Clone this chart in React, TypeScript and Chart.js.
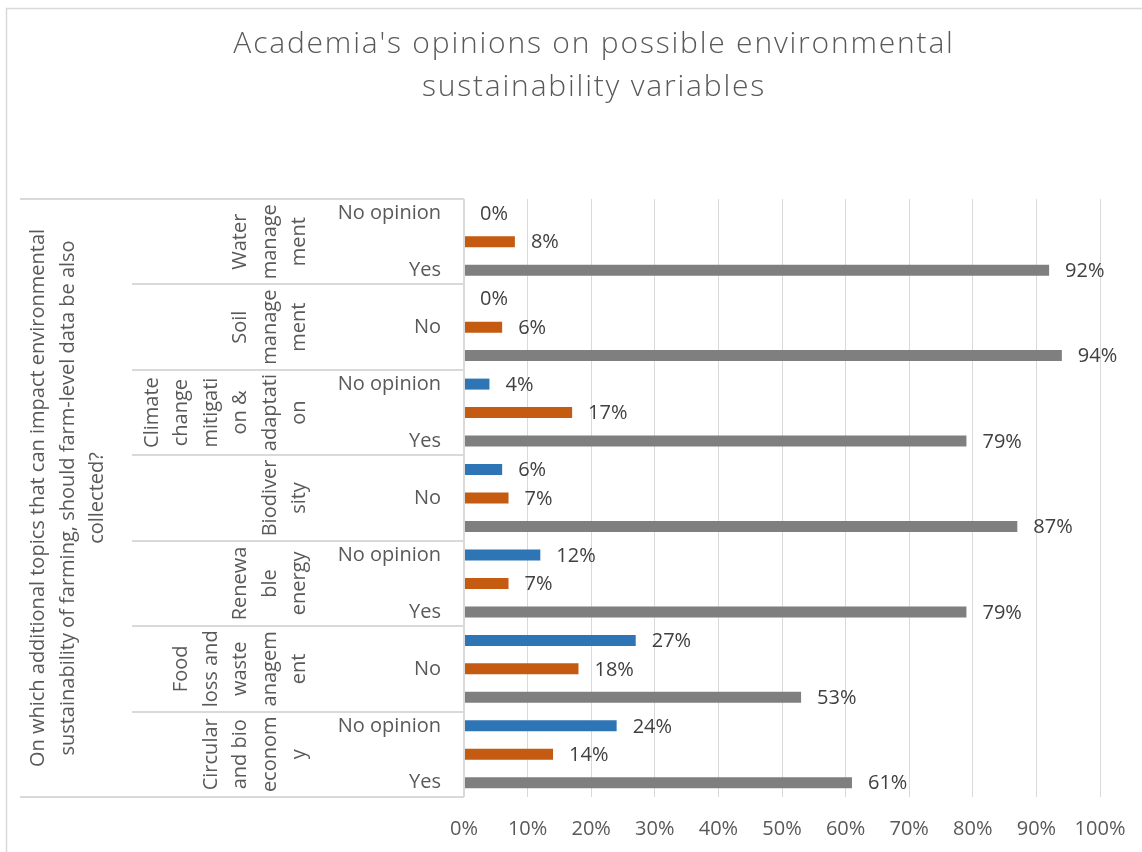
import React, { useEffect, useRef } from "react";
import { Chart, registerables } from "chart.js";

Chart.register(...registerables);

// ---- data ----
const titleLines = ["Academia's opinions on possible environmental", "sustainability variables"];
const axisTitleLines = [
  "On which additional topics that can impact environmental",
  "sustainability of farming, should farm-level data be also",
  "collected?",
];
const topics: string[][] = [
  ["Water", "manage", "ment"],
  ["Soil", "manage", "ment"],
  ["Climate", "change", "mitigati", "on &", "adaptati", "on"],
  ["Biodiver", "sity"],
  ["Renewa", "ble", "energy"],
  ["Food", "loss and", "waste", "anagem", "ent"],
  ["Circular", "and bio", "econom", "y"],
];
const answers = ["No opinion", "No", "Yes"];
const noOpinion = [0, 0, 4, 6, 12, 27, 24];
const no = [8, 6, 17, 7, 7, 18, 14];
const yes = [92, 94, 79, 87, 79, 53, 61];
const xTickValues = [0, 10, 20, 30, 40, 50, 60, 70, 80, 90, 100];

const FONT = "'Open Sans', sans-serif";
const TEXT = "#595959";
const LINE = "#d9d9d9";

const decorPlugin = {
  id: "decor",
  beforeDraw(chart: any) {
    const ctx = chart.ctx;
    ctx.save();
    ctx.strokeStyle = LINE;
    ctx.lineWidth = 1.5;
    ctx.strokeRect(6.5, 8.5, chart.width + 40, chart.height + 40);
    ctx.restore();
  },
  afterDraw(chart: any) {
    const { ctx, chartArea } = chart;
    const yScale = chart.scales.y;
    const n = topics.length;
    const step = (chartArea.bottom - chartArea.top) / n;
    ctx.save();

    // chart title
    ctx.fillStyle = TEXT;
    ctx.font = `300 30px ${FONT}`;
    ctx.textAlign = "center";
    ctx.textBaseline = "alphabetic";
    (ctx as any).letterSpacing = "1.8px";
    titleLines.forEach((line, j) => {
      ctx.fillText(line, 594, 53 + j * 43);
    });
    (ctx as any).letterSpacing = "0px";

    // data labels + answer labels
    ctx.font = `20px ${FONT}`;
    ctx.textBaseline = "middle";
    chart.data.datasets.forEach((ds: any, d: number) => {
      const meta = chart.getDatasetMeta(d);
      meta.data.forEach((bar: any, i: number) => {
        ctx.fillStyle = "#404040";
        ctx.textAlign = "left";
        ctx.fillText(`${ds.data[i]}%`, bar.x + 16, bar.y + 1);
        const k = i * answers.length + d;
        if (k % 2 === 0) {
          ctx.fillStyle = TEXT;
          ctx.textAlign = "right";
          ctx.fillText(answers[d], chartArea.left - 23, bar.y);
        }
      });
    });

    // category box lines
    ctx.strokeStyle = LINE;
    ctx.lineWidth = 2;
    for (let i = 0; i <= n; i++) {
      const y = Math.round(i < n ? yScale.getPixelForValue(i) - step / 2 : chartArea.bottom);
      const x0 = i === 0 || i === n ? 20 : 132;
      ctx.beginPath();
      ctx.moveTo(x0, y);
      ctx.lineTo(chartArea.left, y);
      ctx.stroke();
    }

    // rotated topic labels
    ctx.fillStyle = TEXT;
    ctx.textAlign = "center";
    ctx.textBaseline = "alphabetic";
    const lastBase = chartArea.left - 159;
    topics.forEach((lines, i) => {
      const cy = yScale.getPixelForValue(i);
      lines.forEach((line, j) => {
        const bx = lastBase - (lines.length - 1 - j) * 29.5;
        ctx.save();
        ctx.translate(bx, cy);
        ctx.rotate(-Math.PI / 2);
        ctx.fillText(line, 0, 0);
        ctx.restore();
      });
    });

    // outer axis title
    const cyAll = (chartArea.top + chartArea.bottom) / 2;
    axisTitleLines.forEach((line, j) => {
      ctx.save();
      ctx.translate(44 + j * 29.5, cyAll);
      ctx.rotate(-Math.PI / 2);
      ctx.fillText(line, 0, 0);
      ctx.restore();
    });

    ctx.restore();
  },
};

export default function App() {
  const ref = useRef<HTMLCanvasElement>(null);
  useEffect(() => {
    const chart = new Chart(ref.current!, {
      type: "bar",
      data: {
        labels: topics,
        datasets: [
          { label: answers[0], data: noOpinion, backgroundColor: "#2E75B6" },
          { label: answers[1], data: no, backgroundColor: "#C55A11" },
          { label: answers[2], data: yes, backgroundColor: "#7F7F7F" },
        ],
      },
      options: {
        indexAxis: "y",
        responsive: false,
        animation: false,
        events: [],
        datasets: { bar: { categoryPercentage: 1, barPercentage: 0.386 } },
        layout: { padding: { left: 464, right: 42, top: 199, bottom: 11 } },
        plugins: {
          legend: { display: false },
          tooltip: { enabled: false },
          title: { display: false },
        },
        scales: {
          x: {
            min: 0,
            max: 100,
            afterBuildTicks: (s: any) => {
              s.ticks = xTickValues.map((v) => ({ value: v }));
            },
            afterFit: (s: any) => {
              s.height = 44;
              s.paddingLeft = 0;
              s.paddingRight = 0;
            },
            ticks: {
              callback: (v: any) => `${v}%`,
              color: TEXT,
              font: { family: FONT, size: 20 },
              padding: 20,
              maxRotation: 0,
              autoSkip: false,
            },
            grid: {
              color: LINE,
              lineWidth: (c: any) => (c.index === 0 ? 2 : 1),
              drawTicks: false,
            },
            border: { display: false },
          },
          y: {
            display: false,
          },
        },
      },
      plugins: [decorPlugin],
    } as any);
    return () => chart.destroy();
  }, []);
  return (
    <div style={{ position: "fixed", left: 0, top: 0, width: 1142, height: 852, background: "#fff" }}>
      <canvas ref={ref} width={1142} height={852} style={{ display: "block", width: 1142, height: 852 }} />
    </div>
  );
}
